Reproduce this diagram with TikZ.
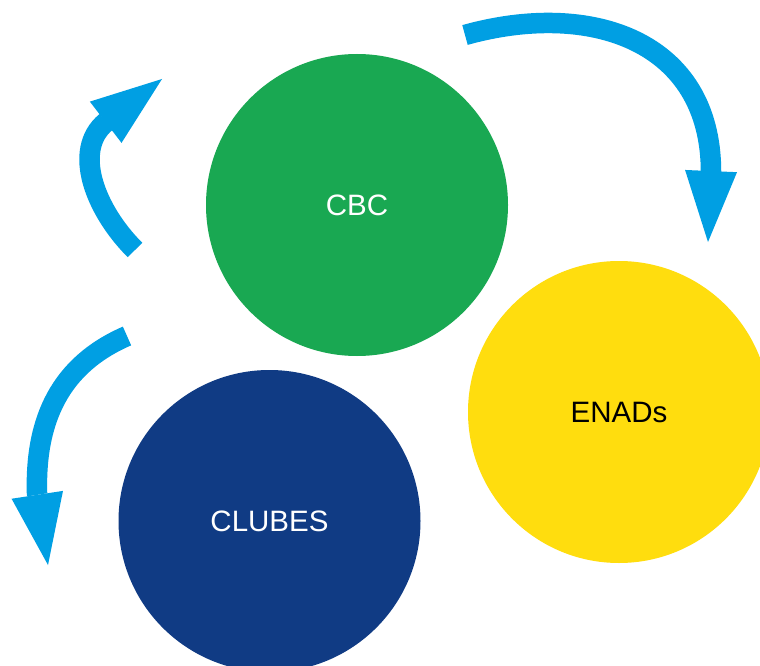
\documentclass[tikz,border=0pt]{standalone}
\usepackage{fontspec}
\setmainfont{Liberation Sans}
\usetikzlibrary{arrows.meta}
\definecolor{cbcgreen}{RGB}{25,168,82}
\definecolor{enadyellow}{RGB}{255,221,14}
\definecolor{clubnavy}{RGB}{16,59,132}
\definecolor{arrowblue}{RGB}{0,159,227}
\begin{document}
\begin{tikzpicture}[x=1pt,y=-1pt,
  disc/.style={circle, minimum size=302pt, inner sep=0pt, font=\fontsize{29.5}{35}\selectfont},
  flow/.style={line width=20.5pt, draw=arrowblue, -{Triangle[length=71pt,width=52pt,line width=0pt]}}]
\useasboundingbox (0,0) rectangle (760,666);
\clip (0,0) rectangle (760,666);
\fill[white] (0,0) rectangle (760,666);

\node[disc, fill=cbcgreen, text=white] (cbc) at (357,205) {CBC};
\node[disc, fill=enadyellow, text=black] (enads) at (619,412) {ENADs};
\node[disc, fill=clubnavy, text=white] (clubes) at (269.5,521) {CLUBES};

% top-right arrow
\coordinate (a1s) at (465,35);
\coordinate (a1m) at (711,172);
\coordinate (a1t) at (708,242);
\draw[flow] (a1s) .. controls (590,0) and (711,40) .. (a1m) -- (a1t);

% upper-left arrow
\coordinate (a2s) at (135,250);
\coordinate (a2m) at (106,122);
\coordinate (a2t) at (162,79);
\draw[flow] (a2s) .. controls (95,210) and (72,150) .. (a2m) -- (a2t);

% lower-left arrow
\coordinate (a3s) at (127,336);
\coordinate (a3m) at (37,493);
\coordinate (a3t) at (48,565);
\draw[flow] (a3s) .. controls (60,365) and (35,420) .. (a3m) -- (a3t);
\end{tikzpicture}
\end{document}
